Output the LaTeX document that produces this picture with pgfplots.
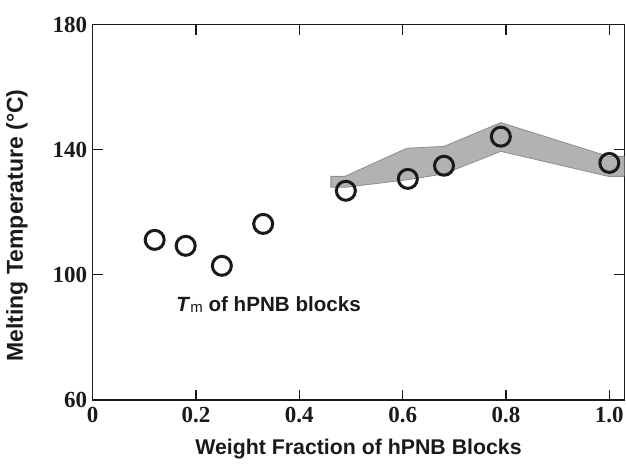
\documentclass[border=0pt]{standalone}
\usepackage{fontspec}
\setmainfont{Liberation Serif}
\setsansfont{Liberation Sans}
\usepackage{pgfplots}
\pgfplotsset{compat=1.18}

\definecolor{bandfill}{HTML}{B1B2B4}
\definecolor{bandedge}{HTML}{8E8F91}
\definecolor{ink}{HTML}{1A1A1A}

\newcommand{\tl}[1]{\textbf{#1}}

\begin{document}
\begin{tikzpicture}
% fixed canvas around the axis box
\path[use as bounding box] (-92.7pt,-70pt) rectangle (533.3pt,400pt);
\begin{axis}[
  at={(0pt,0pt)}, anchor=south west,
  scale only axis,
  width=531.6pt, height=375.3pt,
  xmin=0, xmax=1.029,
  ymin=60, ymax=180,
  xtick={0,0.2,0.4,0.6,0.8,1.0},
  xticklabels={\tl{0},\tl{0.2},\tl{0.4},\tl{0.6},\tl{0.8},\tl{1.0}},
  ytick={60,100,140,180},
  yticklabels={\tl{60},\tl{100},\tl{140},\tl{180}},
  tick align=inside,
  major tick length=10pt,
  tick style={line width=1.1pt, color=ink},
  axis line style={line width=1.3pt, color=ink},
  xticklabel style={font=\fontsize{23}{23}\selectfont, text=ink, yshift=-4pt},
  yticklabel style={font=\fontsize{23}{23}\selectfont, text=ink, xshift=-2pt},
  xlabel={Weight Fraction of hPNB Blocks},
  ylabel={Melting Temperature (°C)},
  label style={font=\sffamily\bfseries, text=ink},
  xlabel style={font=\fontsize{21.3}{21.3}\selectfont\sffamily\bfseries,
    at={(axis description cs:0.5,-0.13)}, anchor=center},
  ylabel style={font=\fontsize{23}{23}\selectfont\sffamily\bfseries,
    at={(axis description cs:-0.1424,0.465)}, anchor=center},
  clip=true,
]
% spread of the melting temperature (shaded band)
\addplot[fill=bandfill, draw=bandedge, line width=0.8pt] coordinates {
  (0.461,131.5) (0.488,131.5) (0.608,140.5) (0.680,141.1) (0.790,148.7)
  (0.998,137.9) (1.029,137.9)
  (1.029,131.5) (0.998,131.5) (0.790,139.5) (0.680,132.3) (0.608,130.4)
  (0.488,128.0) (0.461,128.0)
} -- cycle;
% measured melting temperatures
\addplot[only marks, mark=o, mark size=9.5pt,
  mark options={line width=3pt, draw=ink, fill=white}] coordinates {
  (0.12,111.2) (0.18,109.3) (0.25,102.9) (0.33,116.3)
  (0.49,126.9) (0.61,130.7) (0.68,134.9) (0.79,144.2) (1.00,135.8)
};
\node[anchor=west, font=\fontsize{20.6}{20.6}\selectfont\sffamily\bfseries, text=ink]
  at (axis cs:0.155,90.4)
  {\textit{T}\raisebox{-1pt}{\fontsize{15}{15}\selectfont\mdseries m} of hPNB blocks};
\end{axis}
\end{tikzpicture}
\end{document}
